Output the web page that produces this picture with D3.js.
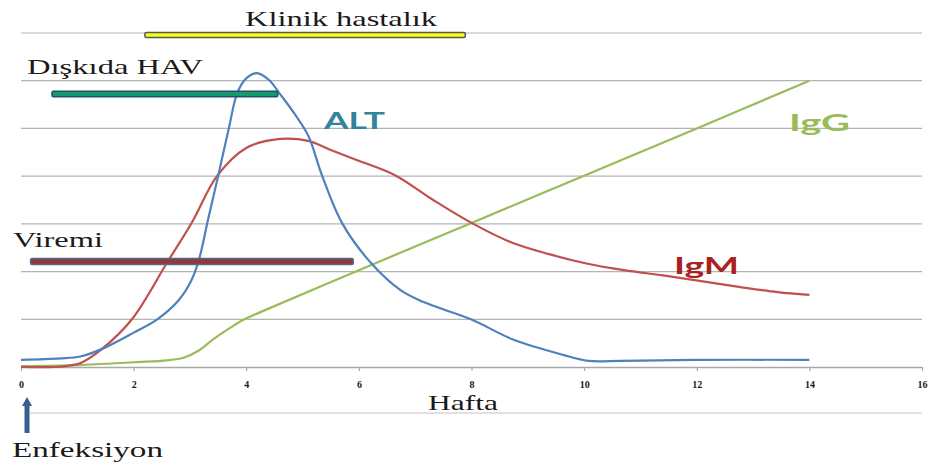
<!DOCTYPE html>
<html>
<head>
<meta charset="utf-8">
<script src="https://cdn.jsdelivr.net/npm/d3@7"></script>
<style>
  html, body { margin: 0; padding: 0; background: #ffffff; }
  svg { display: block; }
</style>
</head>
<body>
<svg id="chart" width="931" height="465"></svg>
<script>
// ---------- DATA ----------
const xTickValues = [0, 2, 4, 6, 8, 10, 12, 14, 16];
const gridValues = [1, 2, 3, 4, 5, 6, 7];

const weeksALT = [0, 0.7, 1.05, 1.44, 2.0, 2.42, 2.8, 3.02, 3.16, 3.32, 3.5, 3.69, 3.84, 4.0, 4.19, 4.4, 4.6, 4.85, 5.1, 5.35, 5.7, 6.2, 6.74, 7.15, 7.99, 8.75, 9.64, 10.07, 10.66, 12, 14];
const altValues = [0.15, 0.18, 0.22, 0.38, 0.72, 1.0, 1.4, 1.8, 2.25, 3.08, 4.0, 5.0, 5.74, 6.05, 6.16, 6.02, 5.72, 5.32, 4.85, 4.0, 3.02, 2.2, 1.61, 1.36, 1.0, 0.57, 0.25, 0.13, 0.13, 0.15, 0.15];

const weeksIgM = [0, 0.6, 0.85, 1.05, 1.44, 1.97, 2.6, 3.04, 3.48, 4.0, 4.6, 5.1, 5.5, 5.96, 6.64, 7.32, 8.0, 8.69, 9.36, 10.04, 10.71, 11.4, 12.08, 12.75, 13.43, 14];
const igmValues = [0, 0, 0.03, 0.08, 0.38, 1.0, 2.2, 3.04, 4.0, 4.59, 4.78, 4.74, 4.55, 4.34, 4.02, 3.5, 3.02, 2.62, 2.37, 2.17, 2.03, 1.92, 1.8, 1.68, 1.57, 1.51];

const weeksIgG = [0, 1, 2, 2.6, 2.9, 3.15, 3.4, 3.7, 3.95, 4.25, 6, 8, 10, 12, 14];
const iggValues = [0.02, 0.04, 0.1, 0.14, 0.2, 0.34, 0.57, 0.81, 0.99, 1.15, 2.03, 3.02, 4.01, 5.0, 6.0];

const periodLabels = ["Klinik hastalık", "Dışkıda HAV", "Viremi"];
const periodStart = [2.2, 0.55, 0.17];
const periodEnd = [7.89, 4.56, 5.9];

const seriesNames = ["ALT", "IgM", "IgG"];
const axisTitle = "Hafta";
const infectionLabel = "Enfeksiyon";

// ---------- LAYOUT / STYLE ----------
const svg = d3.select("#chart");
const x = d3.scaleLinear().domain([0, 16]).range([21, 922]);
const y = d3.scaleLinear().domain([0, 7]).range([367, 33]);

const serifFont = "Liberation Serif";
const lineColors = { ALT: "#4f81bd", IgM: "#c0504d", IgG: "#9bbb59" };
const labelColors = { ALT: "#31849b", IgM: "#a8231f", IgG: "#9bbb59" };

// gridlines
svg.append("g").selectAll("line").data(gridValues).join("line")
  .attr("x1", x(0)).attr("x2", x(16))
  .attr("y1", d => y(d)).attr("y2", d => y(d))
  .attr("stroke", "#b4b4b4").attr("stroke-width", 1.2);

// x axis
const xAxis = d3.axisBottom(x).tickValues(xTickValues).tickSize(4).tickSizeOuter(0);
const gx = svg.append("g").attr("transform", `translate(0,${y(0)})`).call(xAxis);
gx.attr("font-family", serifFont).attr("font-size", 10).attr("font-weight", "bold");
gx.select(".domain").attr("stroke", "#a8a8a8").attr("stroke-width", 1.5);
gx.selectAll(".tick line").attr("stroke", "#a8a8a8").attr("stroke-width", 1.2);
gx.selectAll(".tick text")
  .attr("dy", 0).attr("y", 21)
  .attr("fill", "#1a1a1a");

// lower faint line
svg.append("line").attr("x1", 30).attr("x2", 922).attr("y1", 413).attr("y2", 413)
  .attr("stroke", "#c4c4c4").attr("stroke-width", 1.2);

// curves
const lineGen = d3.line().x(d => x(d[0])).y(d => y(d[1])).curve(d3.curveCatmullRom.alpha(0.5));
const series = [
  { name: "IgG", weeks: weeksIgG, vals: iggValues },
  { name: "IgM", weeks: weeksIgM, vals: igmValues },
  { name: "ALT", weeks: weeksALT, vals: altValues }
];
series.forEach(s => {
  svg.append("path")
    .datum(d3.zip(s.weeks, s.vals))
    .attr("d", lineGen)
    .attr("fill", "none")
    .attr("stroke", lineColors[s.name])
    .attr("stroke-width", 2.2)
    .attr("stroke-linejoin", "round");
});

// period bars
const barLevelsPx = [35, 94, 261.5];
const barThick = [5, 5.5, 6];
const barFill = ["#ffff00", "#159a6e", "#953735"];
const barStroke = ["#4a5870", "#23506a", "#4f6a8f"];
periodLabels.forEach((lab, i) => {
  svg.append("rect")
    .attr("x", x(periodStart[i]))
    .attr("y", barLevelsPx[i] - barThick[i] / 2)
    .attr("width", x(periodEnd[i]) - x(periodStart[i]))
    .attr("height", barThick[i])
    .attr("rx", 1.5)
    .attr("fill", barFill[i])
    .attr("stroke", barStroke[i])
    .attr("stroke-width", 1.5);
});

// serif labels
const serifLabels = [
  { t: periodLabels[0], x: 245, y: 26, len: 192 },
  { t: periodLabels[1], x: 27, y: 74, len: 176 },
  { t: periodLabels[2], x: 13, y: 247, len: 90 },
  { t: axisTitle, x: 428, y: 410, len: 70 },
  { t: infectionLabel, x: 12, y: 457, len: 151 }
];
serifLabels.forEach(l => {
  svg.append("text")
    .attr("x", l.x).attr("y", l.y)
    .attr("font-family", serifFont)
    .attr("font-size", 21)
    .attr("fill", "#1a1a1a")
    .attr("textLength", l.len)
    .attr("lengthAdjust", "spacingAndGlyphs")
    .text(l.t);
});

// series labels
const seriesLabelPos = {
  ALT: { x: 324, y: 129, len: 61 },
  IgG: { x: 789, y: 131, len: 61 },
  IgM: { x: 674, y: 274, len: 65 }
};
seriesNames.forEach(n => {
  const p = seriesLabelPos[n];
  svg.append("text")
    .attr("x", p.x).attr("y", p.y)
    .attr("font-family", "Lato")
    .attr("font-weight", 700)
    .attr("font-size", 23)
    .attr("fill", labelColors[n])
    .attr("textLength", p.len)
    .attr("lengthAdjust", "spacingAndGlyphs")
    .text(n);
});

// infection arrow
const ax = x(0) + 6;
svg.append("path")
  .attr("d", `M${ax - 2.5},433 L${ax - 2.5},406 L${ax - 5},406 L${ax},397 L${ax + 5},406 L${ax + 2.5},406 L${ax + 2.5},433 Z`)
  .attr("fill", "#35608f");
</script>
</body>
</html>
